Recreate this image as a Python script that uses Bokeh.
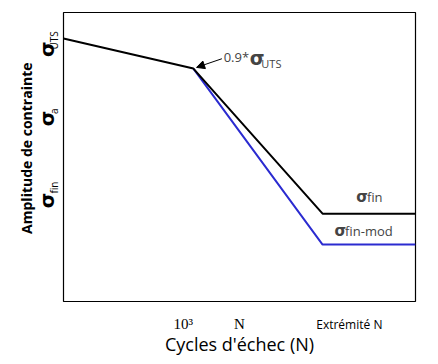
from math import pi
from bokeh.plotting import figure
from bokeh.models import (Range1d, Label, Arrow, NormalHead, LinearAxis,
                          FixedTicker, Title)
from bokeh.embed import file_html
from bokeh.resources import INLINE

# ---- data (abstract units: x = log cycles position, y = stress amplitude) ----
cycles_fin = [0.0, 3.69, 7.36, 10.0]
stress_fin = [9.10, 8.06, 3.04, 3.04]
cycles_mod = [3.69, 7.36, 10.0]
stress_mod = [8.06, 1.97, 1.97]

tick_serif_pos = [3.4, 5.0]
tick_serif_labels = ["10³", "N"]
tick_sans_pos = [8.12]
tick_sans_labels = ["Extrémité N"]

sigma_pos = [9.0, 6.6, 3.77]
sub_pos = [9.35, 6.68, 4.15]
sub_labels = ["UTS", "a", "fin"]

W, H = 430, 364
p = figure(width=W, height=H, output_backend="svg", toolbar_location=None,
           x_range=Range1d(0, 10), y_range=Range1d(0, 10),
           x_axis_location=None, y_axis_location=None,
           min_border_left=63, min_border_right=15,
           min_border_top=12, min_border_bottom=63)
p.grid.visible = False
p.outline_line_color = "black"
p.outline_line_width = 1.2
p.background_fill_color = "white"
p.border_fill_color = "white"


def bare_axis(ax):
    ax.axis_line_color = None
    ax.major_tick_line_color = None
    ax.minor_tick_line_color = None
    ax.major_tick_out = 0
    ax.major_tick_in = 0
    ax.minor_tick_out = 0
    ax.minor_tick_in = 0
    ax.major_label_text_color = "black"
    ax.axis_label_text_color = "black"
    return ax


# x axes: serif tick labels (inner) and sans tick label + title (outer)
xa1 = bare_axis(LinearAxis(ticker=FixedTicker(ticks=tick_serif_pos)))
xa1.major_label_overrides = dict(zip(tick_serif_pos, tick_serif_labels))
xa1.major_label_text_font = "Liberation Serif"
xa1.major_label_text_font_size = "15px"
xa1.major_label_standoff = 14
p.add_layout(xa1, "below")

xa2 = bare_axis(LinearAxis(ticker=FixedTicker(ticks=tick_sans_pos)))
xa2.major_label_overrides = dict(zip(tick_sans_pos, tick_sans_labels))
xa2.major_label_text_font = "Open Sans"
xa2.major_label_text_font_size = "12px"
xa2.major_label_standoff = -19
xa2.axis_label = "Cycles d'échec (N)"
xa2.axis_label_text_font = "Open Sans"
xa2.axis_label_text_font_size = "18px"
xa2.axis_label_text_font_style = "normal"
xa2.axis_label_standoff = -4
p.add_layout(xa2, "below")

# y axes: subscripts (inner) and sigma (outer)
ya1 = bare_axis(LinearAxis(ticker=FixedTicker(ticks=sub_pos)))
ya1.major_label_overrides = dict(zip(sub_pos, sub_labels))
ya1.major_label_orientation = pi / 2
ya1.major_label_text_font = "Open Sans"
ya1.major_label_text_font_size = "10px"
ya1.major_label_standoff = 9
p.add_layout(ya1, "left")

ya2 = bare_axis(LinearAxis(ticker=FixedTicker(ticks=sigma_pos)))
ya2.major_label_overrides = {v: "σ" for v in sigma_pos}
ya2.major_label_orientation = pi / 2
ya2.major_label_text_font = "DejaVu Sans"
ya2.major_label_text_font_size = "20px"
ya2.major_label_text_font_style = "bold"
ya2.major_label_standoff = -10
p.add_layout(ya2, "left")

p.add_layout(Title(text="Amplitude de contrainte", text_font="Open Sans",
                   text_font_size="14px", text_font_style="bold", align="right",
                   offset=50, standoff=-30, text_color="black"), "left")

p.line(cycles_mod, stress_mod, line_color="#2b2bd0", line_width=2)
p.line(cycles_fin, stress_fin, line_color="black", line_width=2)

# in-plot labels
p.add_layout(Label(x=8.32, y=3.6, text="σ", text_font="DejaVu Sans", text_font_size="15px",
                   text_font_style="bold", text_align="left", text_baseline="middle"))
p.add_layout(Label(x=8.62, y=3.6, text="fin", text_font="Open Sans", text_font_size="13px",
                   text_align="left", text_baseline="middle"))
p.add_layout(Label(x=7.7, y=2.45, text="σ", text_font="DejaVu Sans", text_font_size="15px",
                   text_font_style="bold", text_align="left", text_baseline="middle"))
p.add_layout(Label(x=8.0, y=2.45, text="fin-mod", text_font="Open Sans", text_font_size="13px",
                   text_align="left", text_baseline="middle"))

# annotation 0.9*sigma_UTS
p.add_layout(Arrow(x_start=4.5, y_start=8.4, x_end=3.78, y_end=8.1,
                   line_color="black", line_width=1,
                   end=NormalHead(size=8, fill_color="black", line_color="black")))
p.add_layout(Label(x=4.55, y=8.45, text="0.9*", text_font="Open Sans", text_font_size="13px",
                   text_align="left", text_baseline="middle"))
p.add_layout(Label(x=5.29, y=8.42, text="σ", text_font="DejaVu Sans", text_font_size="19px",
                   text_font_style="bold", text_align="left", text_baseline="middle"))
p.add_layout(Label(x=5.62, y=8.25, text="UTS", text_font="Open Sans", text_font_size="11px",
                   text_align="left", text_baseline="middle"))

open("out.html", "w").write(file_html(p, INLINE))
